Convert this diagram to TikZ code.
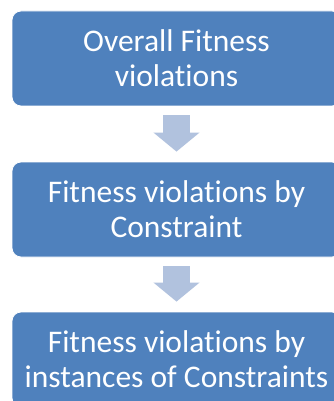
\documentclass[tikz,border=0pt]{standalone}
\usepackage{fontspec}
\setmainfont[Ligatures={NoCommon,NoRequired,NoContextual}]{Carlito}
\usetikzlibrary{arrows.meta}
\definecolor{boxblue}{RGB}{79,129,189}
\definecolor{arrowblue}{RGB}{177,194,222}
\tikzset{
  stepbox/.style={rectangle, rounded corners=9pt, fill=boxblue, draw=white, line width=0.8pt,
    minimum width=329pt, minimum height=95pt, text=white, align=center,
    font=\fontsize{31.5}{35}\selectfont, inner sep=0pt},
  flowarrow/.style={line width=27pt, draw=arrowblue, -{Triangle[length=19pt,width=45pt]},
    shorten <=9pt, shorten >=10pt}
}
\begin{document}
\begin{tikzpicture}[x=1pt,y=-1pt]
\useasboundingbox (0,0) rectangle (334,401);
\clip (0,0) rectangle (334,401);
\fill[white] (0,0) rectangle (334,401);
\node[stepbox] (b1) at (176.5,58.5) {Overall Fitness\\violations};
\node[stepbox] (b2) at (176.5,209.5) {Fitness violations by\\Constraint};
\node[stepbox] (b3) at (176.5,359.5) {Fitness violations by\\instances of Constraints};
\draw[flowarrow] (b1.south) -- (b2.north);
\draw[flowarrow] (b2.south) -- (b3.north);
\end{tikzpicture}
\end{document}
